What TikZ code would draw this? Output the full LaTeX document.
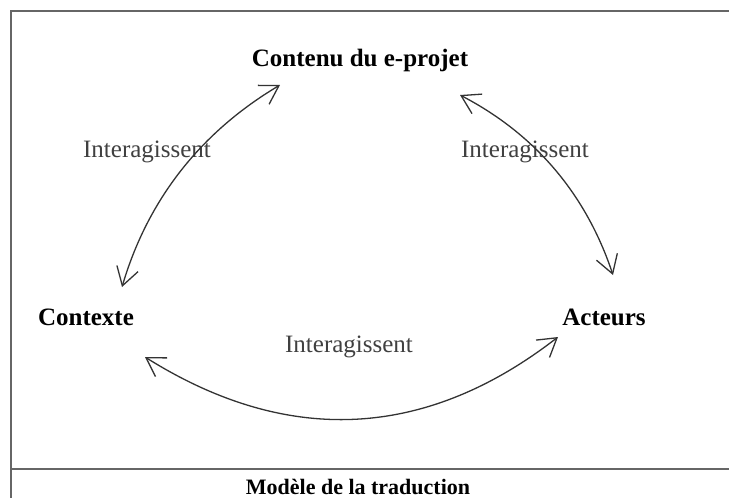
\documentclass[tikz,border=0pt]{standalone}
\usepackage{fontspec}
\setmainfont{Liberation Serif}
\usetikzlibrary{arrows.meta}

\begin{document}
\begin{tikzpicture}[x=1pt,y=-1pt,
  lbl/.style={font=\fontsize{25}{30}\selectfont\bfseries, inner sep=0pt, anchor=base},
  rel/.style={font=\fontsize{25}{30}\selectfont, text=black!75, inner sep=0pt, anchor=base},
  frame/.style={line width=1.3pt, draw=black!60},
  interarc/.style={line width=1.3pt, draw=black!80,
    {Straight Barb[length=18pt,width=22pt]}-{Straight Barb[length=18pt,width=22pt]}}]
  \useasboundingbox (0,0) rectangle (729,498);

%cadre
  \draw[frame] (729,11) -- (11,11) -- (11,498);
  \draw[frame] (11,469) -- (729,469);

%poles
  \node[lbl] (Contenu) at (360,66) {Contenu du e-projet};
  \node[lbl] (Contexte) at (86,325) {Contexte};
  \node[lbl] (Acteurs) at (604,325) {Acteurs};
  \node[lbl, font=\fontsize{22}{26}\selectfont\bfseries] (Titre) at (358,494) {Modèle de la traduction};

%interactions
  \node[rel] (IntG) at (147,157) {Interagissent};
  \node[rel] (IntD) at (525,157) {Interagissent};
  \node[rel] (IntB) at (349,352) {Interagissent};

%bouts des fleches
  \coordinate (CtxH) at (122,287);
  \coordinate (CntG) at (280,85);
  \coordinate (CntD) at (460,95);
  \coordinate (ActH) at (613,275);
  \coordinate (CtxB) at (145,357);
  \coordinate (ActB) at (558,337);

  \draw[interarc] (CtxH) .. controls (148,199) and (201,132) .. (CntG);
  \draw[interarc] (CntD) .. controls (535,134) and (586,194) .. (ActH);
  \draw[interarc] (CtxB) .. controls (287,446) and (425,440) .. (ActB);

\end{tikzpicture}
\end{document}
